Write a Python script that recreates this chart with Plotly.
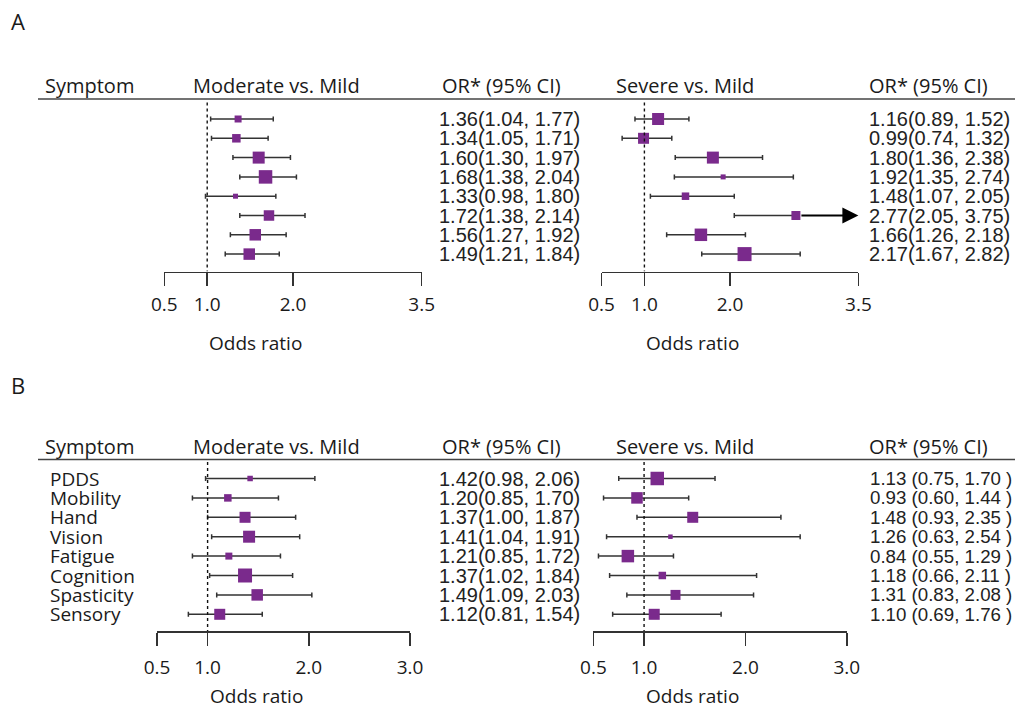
import plotly.graph_objects as go

# ---------------- data ----------------
symptoms_b = ["PDDS", "Mobility", "Hand", "Vision", "Fatigue", "Cognition", "Spasticity", "Sensory"]

a_mod_or = [1.36, 1.34, 1.60, 1.68, 1.33, 1.72, 1.56, 1.49]
a_mod_lo = [1.04, 1.05, 1.30, 1.38, 0.98, 1.38, 1.27, 1.21]
a_mod_hi = [1.77, 1.71, 1.97, 2.04, 1.80, 2.14, 1.92, 1.84]
a_mod_w = [7, 8.5, 12, 13.5, 5, 10.5, 11.5, 11.5]

a_sev_or = [1.16, 0.99, 1.80, 1.92, 1.48, 2.77, 1.66, 2.17]
a_sev_lo = [0.89, 0.74, 1.36, 1.35, 1.07, 2.05, 1.26, 1.67]
a_sev_hi = [1.52, 1.32, 2.38, 2.74, 2.05, 3.75, 2.18, 2.82]
a_sev_w = [12, 11, 12, 5, 7.5, 9, 12.5, 14]

b_mod_or = [1.42, 1.20, 1.37, 1.41, 1.21, 1.37, 1.49, 1.12]
b_mod_lo = [0.98, 0.85, 1.00, 1.04, 0.85, 1.02, 1.09, 0.81]
b_mod_hi = [2.06, 1.70, 1.87, 1.91, 1.72, 1.84, 2.03, 1.54]
b_mod_w = [5.5, 7.5, 11, 12, 7, 14, 11.5, 11]

b_sev_or = [1.13, 0.93, 1.48, 1.26, 0.84, 1.18, 1.31, 1.10]
b_sev_lo = [0.75, 0.60, 0.93, 0.63, 0.55, 0.66, 0.83, 0.69]
b_sev_hi = [1.70, 1.44, 2.35, 2.54, 1.29, 2.11, 2.08, 1.76]
b_sev_w = [13.5, 11.5, 11, 4.5, 12.5, 7.5, 10, 11]

ticks_a = [0.5, 1.0, 2.0, 3.5]
ticks_b = [0.5, 1.0, 2.0, 3.0]

# ---------------- layout helpers ----------------
W, H = 1015, 709
def fx(px): return px / W
def fy(py): return 1 - py / H

PURPLE = "#7a2a8c"
DARK = "#333333"
TXT = "#1a1a1a"
SANS = "Open Sans"
NUM = "Liberation Sans Narrow, Arial Narrow, Liberation Sans"

fig = go.Figure()

panels = [
    # xaxis name, yaxis name, or, lo, hi, weights, ticks, x-range px (min,max)
    ("x", "y", a_mod_or, a_mod_lo, a_mod_hi, a_mod_w, ticks_a, (164.3, 421.7)),
    ("x2", "y", a_sev_or, a_sev_lo, a_sev_hi, a_sev_w, ticks_a, (601.6, 858.4)),
    ("x3", "y2", b_mod_or, b_mod_lo, b_mod_hi, b_mod_w, ticks_b, (157.0, 410.0)),
    ("x4", "y2", b_sev_or, b_sev_lo, b_sev_hi, b_sev_w, ticks_b, (593.4, 846.8)),
]

# y geometry (px): top line, first row, row step, axis line
ygeo = {"y": (99.0, 119.0, 19.3, 271.5), "y2": (459.5, 478.5, 19.4, 631.0)}

annotations = []
shapes = []

for xa, ya, orv, lo, hi, w, ticks, (p0, p1) in panels:
    xmin, xmax = ticks[0], ticks[-1]
    rows = list(range(len(orv)))
    plus, minus = [], []
    for i in rows:
        minus.append(orv[i] - lo[i])
        if hi[i] > xmax:
            plus.append(0.0)
            annotations.append(dict(
                x=xmax, y=i, xref=xa, yref=ya, ax=orv[i], ay=i,
                axref=xa, ayref=ya, showarrow=True, arrowhead=2,
                arrowsize=1.6, arrowwidth=2, arrowcolor="#000000",
                startstandoff=4, text=""))
        else:
            plus.append(hi[i] - orv[i])
    fig.add_trace(go.Scatter(
        x=orv, y=rows, xaxis=xa, yaxis=ya, mode="markers",
        marker=dict(symbol="square", size=w, color=PURPLE, opacity=1, line=dict(width=0)),
        error_x=dict(type="data", symmetric=False, array=plus, arrayminus=minus,
                     color=DARK, thickness=1.5, width=2.5),
        showlegend=False, hoverinfo="skip", cliponaxis=False))
    # reference line at OR = 1
    top, r0, dr, bot = ygeo[ya]
    ybot = (bot - r0) / dr
    shapes.append(dict(type="line", xref=xa, yref=ya, x0=1.0, x1=1.0,
                       y0=-0.85, y1=ybot, line=dict(color="#111111", width=1.4, dash="3px,3px")))
    # axis title
    annotations.append(dict(x=1.0, xref=xa, xanchor="left",
                            y=fy(342.5 if ya == "y" else 695.5), yref="paper", yanchor="middle",
                            text="Odds ratio", showarrow=False,
                            font=dict(family=SANS, size=19, color=TXT)))

# axes
axis_common = dict(showline=True, linecolor=DARK, linewidth=1.5, ticks="outside",
                   ticklen=13, tickwidth=1.5, tickcolor=DARK, showgrid=False,
                   zeroline=False, fixedrange=True,
                   tickfont=dict(family=SANS, size=19, color=TXT))
for xa, ya, orv, lo, hi, w, ticks, (p0, p1) in panels:
    key = "xaxis" if xa == "x" else "xaxis" + xa[1:]
    fig.layout[key] = dict(
        domain=[fx(p0), fx(p1)], range=[ticks[0], ticks[-1]], anchor=ya,
        tickvals=ticks, ticktext=[f"{t:.1f}" for t in ticks],
        ticklabelstandoff=(2 if ya == "y" else 6), **axis_common)

for ya, (top, r0, dr, bot) in ygeo.items():
    key = "yaxis" if ya == "y" else "yaxis2"
    fig.layout[key] = dict(domain=[fy(bot), fy(top)],
                           range=[(bot - r0) / dr, (top - r0) / dr],
                           visible=False, fixedrange=True,
                           anchor="x" if ya == "y" else "x3")

# header lines
for top in (99.0, 459.5):
    shapes.append(dict(type="line", xref="paper", yref="paper", x0=fx(38), x1=1.0,
                       y0=fy(top), y1=fy(top), line=dict(color="#444444", width=1.5)))

# panel letters
for letter, py in (("A", 21), ("B", 385)):
    annotations.append(dict(x=fx(9), y=fy(py), xref="paper", yref="paper",
                            xanchor="left", yanchor="middle", text=letter, showarrow=False,
                            font=dict(family=SANS, size=22, color=TXT)))

# headers
headers = [("Symptom", 43), ("Moderate vs. Mild", 191), ("OR* (95% CI)", 440),
           ("Severe vs. Mild", 614), ("OR* (95% CI)", 867)]
for py in (85, 446):
    for txt, px in headers:
        annotations.append(dict(x=fx(px), y=fy(py), xref="paper", yref="paper",
                                xanchor="left", yanchor="middle", text=txt, showarrow=False,
                                font=dict(family=SANS, size=20, color=TXT)))

# value columns
def fmt(o, l, h, spaced=False):
    if spaced:
        return f"{o:.2f} ({l:.2f}, {h:.2f} )"
    return f"{o:.2f}({l:.2f}, {h:.2f})"

columns = [
    ("y", 437, a_mod_or, a_mod_lo, a_mod_hi, False, 20),
    ("y", 867, a_sev_or, a_sev_lo, a_sev_hi, False, 20),
    ("y2", 437, b_mod_or, b_mod_lo, b_mod_hi, False, 20),
    ("y2", 868, b_sev_or, b_sev_lo, b_sev_hi, True, 18.7),
]
for ya, px, o, l, h, sp, fs in columns:
    for i in range(len(o)):
        annotations.append(dict(x=fx(px), y=i, xref="paper", yref=ya,
                                xanchor="left", yanchor="middle",
                                text=fmt(o[i], l[i], h[i], sp), showarrow=False,
                                font=dict(family=NUM, size=fs, color="#222222")))

# symptom labels (panel B)
for i, s in enumerate(symptoms_b):
    annotations.append(dict(x=fx(48), y=i, xref="paper", yref="y2",
                            xanchor="left", yanchor="middle", text=s, showarrow=False,
                            font=dict(family=SANS, size=19, color=TXT)))

fig.update_layout(width=W, height=H,
                  margin=dict(l=0, r=0, t=0, b=0, pad=0, autoexpand=False),
                  paper_bgcolor="white", plot_bgcolor="white",
                  annotations=annotations, shapes=shapes,
                  font=dict(family=SANS, color=TXT))

fig.write_html(
    "out.html",
    config={"displayModeBar": False, "staticPlot": True},
    post_script="document.body.style.margin='0';"
                "document.documentElement.style.overflow='hidden';"
                "document.body.style.overflow='hidden';",
)
